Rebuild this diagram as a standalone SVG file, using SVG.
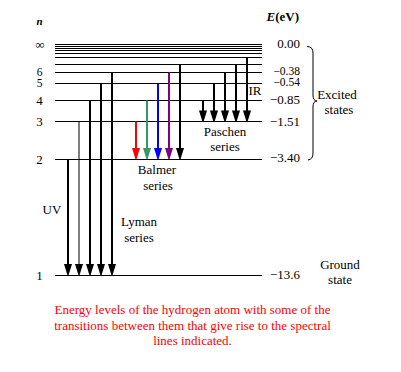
<svg xmlns="http://www.w3.org/2000/svg" width="401" height="372" viewBox="0 0 401 372">
<style>
.lvl{stroke:#000;stroke-width:1;fill:none}
.t{font-family:"Liberation Serif","Times New Roman",serif;font-size:13px;fill:#000}
.m{text-anchor:middle}
.e{text-anchor:end}
.sh{stroke-width:2;fill:none}
.sm{font-size:11.5px}
.cap{font-family:"Liberation Serif","Times New Roman",serif;font-size:13px;fill:#f00;text-anchor:middle}
</style>
<defs>
<path id="ah" d="M-4,-11 L4,-11 L0.6,0 L-0.6,0 Z"/>
</defs>
<rect width="401" height="372" fill="#fff"/>
<g id="levels" class="lvl">
<line x1="55" y1="44.5" x2="262" y2="44.5"/>
<line x1="55" y1="46.5" x2="262" y2="46.5"/>
<line x1="55" y1="48.5" x2="262" y2="48.5"/>
<line x1="55" y1="50.5" x2="262" y2="50.5"/>
<line x1="55" y1="53.5" x2="262" y2="53.5"/>
<line x1="55" y1="57.5" x2="262" y2="57.5"/>
<line x1="55" y1="64.5" x2="262" y2="64.5"/>
<line x1="55" y1="72.5" x2="262" y2="72.5"/>
<line x1="55" y1="83.5" x2="262" y2="83.5"/>
<line x1="55" y1="100.5" x2="262" y2="100.5"/>
<line x1="55" y1="121.5" x2="262" y2="121.5"/>
<line x1="55" y1="159.5" x2="262" y2="159.5"/>
<line x1="55" y1="275.5" x2="262" y2="275.5"/>
</g>
<g id="lyman">
<g stroke="#000" class="sh">
<line x1="68" y1="159.5" x2="68" y2="268"/>
<line x1="79" y1="121.5" x2="79" y2="268" stroke-width="1"/>
<line x1="90" y1="100.5" x2="90" y2="268"/>
<line x1="101" y1="83.5" x2="101" y2="268"/>
<line x1="112" y1="72.5" x2="112" y2="268"/>
</g>
<g fill="#000">
<use href="#ah" x="68" y="275"/>
<use href="#ah" x="79" y="275"/>
<use href="#ah" x="90" y="275"/>
<use href="#ah" x="101" y="275"/>
<use href="#ah" x="112" y="275"/>
</g>
</g>
<g id="balmer">
<line class="sh" stroke="#f00" x1="136" y1="121.5" x2="136" y2="152"/>
<line class="sh" stroke="#339966" x1="147" y1="100.5" x2="147" y2="152"/>
<line class="sh" stroke="#00f" x1="158" y1="83.5" x2="158" y2="152"/>
<line class="sh" stroke="#800080" x1="169" y1="72.5" x2="169" y2="152"/>
<line class="sh" stroke="#000" x1="180" y1="64.5" x2="180" y2="152"/>
<use href="#ah" x="136" y="159" fill="#f00"/>
<use href="#ah" x="147" y="159" fill="#339966"/>
<use href="#ah" x="158" y="159" fill="#00f"/>
<use href="#ah" x="169" y="159" fill="#800080"/>
<use href="#ah" x="180" y="159" fill="#000"/>
</g>
<g id="paschen">
<g stroke="#000" class="sh">
<line x1="203" y1="100.5" x2="203" y2="115"/>
<line x1="214" y1="83.5" x2="214" y2="115"/>
<line x1="225" y1="72.5" x2="225" y2="115"/>
<line x1="236" y1="64.5" x2="236" y2="115"/>
<line x1="247" y1="57.5" x2="247" y2="115"/>
</g>
<g fill="#000">
<use href="#ah" x="203" y="121.5"/>
<use href="#ah" x="214" y="121.5"/>
<use href="#ah" x="225" y="121.5"/>
<use href="#ah" x="236" y="121.5"/>
<use href="#ah" x="247" y="121.5"/>
</g>
</g>
<g id="n-labels" class="t m">
<text x="39.5" y="24.5" font-weight="bold" font-style="italic" font-size="11">n</text>
<text x="40" y="49">∞</text>
<text class="sm" x="39.5" y="75.5">6</text>
<text class="sm" x="39.5" y="87">5</text>
<text x="39.5" y="104.5">4</text>
<text x="39.5" y="126">3</text>
<text x="39.5" y="164">2</text>
<text x="39.5" y="280">1</text>
</g>
<g id="e-labels" class="t e">
<text x="299" y="21" font-weight="bold"><tspan font-style="italic">E</tspan>(eV)</text>
<text x="300" y="48">0.00</text>
<text class="sm" x="300" y="75">−0.38</text>
<text class="sm" x="300" y="86">−0.54</text>
<text x="300" y="103.5">−0.85</text>
<text x="300" y="126">−1.51</text>
<text x="300" y="162">−3.40</text>
<text x="300" y="279">−13.6</text>
</g>
<g id="brace">
<path d="M307,46.5 Q313,46.5 313,53 L313,95 Q313,101 317,101 Q313,101 313,107 L313,153 Q313,159.5 308,160" fill="none" stroke="#000" stroke-width="1"/>
<text class="t m" x="337" y="99">Excited</text>
<text class="t m" x="339" y="113.5">states</text>
</g>
<g id="series-labels" class="t m">
<text x="255" y="94.5">IR</text>
<text x="225" y="135.5">Paschen</text>
<text x="225" y="151">series</text>
<text x="157" y="174">Balmer</text>
<text x="158" y="189.5">series</text>
<text x="52" y="214">UV</text>
<text x="139" y="225.5">Lyman</text>
<text x="139" y="241.5">series</text>
</g>
<g id="ground">
<text class="t m" x="340" y="268.5">Ground</text>
<text class="t m" x="340" y="284">state</text>
</g>
<g id="caption" class="cap">
<text x="192.5" y="314">Energy levels of the hydrogen atom with some of the</text>
<text x="192.5" y="329.5">transitions between them that give rise to the spectral</text>
<text x="192.5" y="345">lines indicated.</text>
</g>
</svg>
